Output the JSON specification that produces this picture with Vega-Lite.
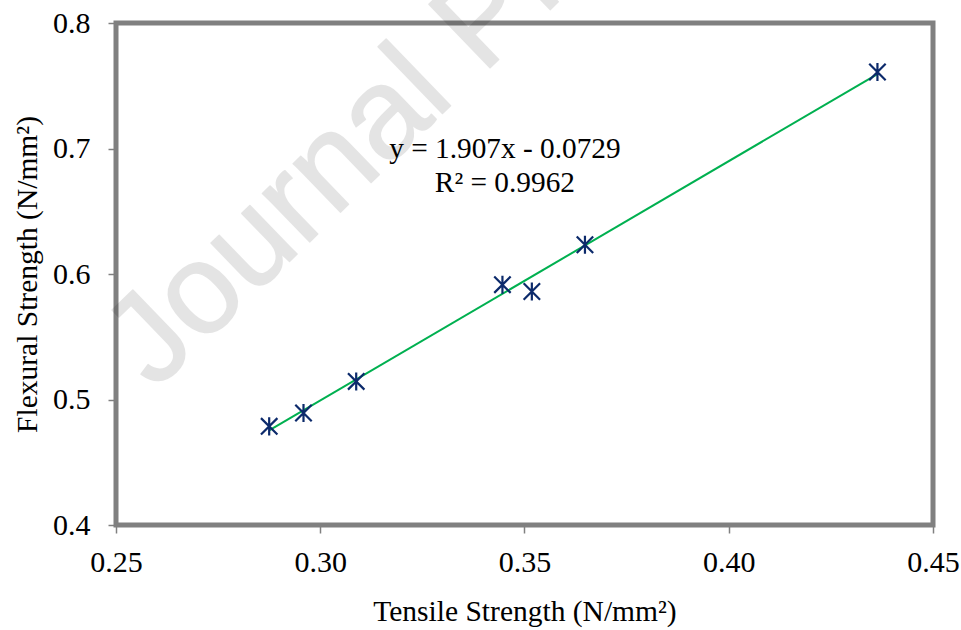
{
  "$schema": "https://vega.github.io/schema/vega-lite/v6.json",
  "autosize": {"type": "none"},
  "width": 817,
  "height": 502,
  "padding": {"left": 116, "top": 23, "right": 28, "bottom": 105},
  "background": "white",
  "config": {
    "view": {"stroke": "#808080", "strokeWidth": 5},
    "axis": {
      "grid": false,
      "domain": false,
      "tickColor": "#808080",
      "tickWidth": 1.5,
      "tickSize": 8,
      "labelFlush": false,
      "labelOverlap": false,
      "labelFont": "Liberation Serif",
      "labelFontSize": 30,
      "labelColor": "#000000",
      "titleFont": "Liberation Serif",
      "titleFontSize": 29.5,
      "titleFontWeight": "normal",
      "titleColor": "#000000"
    }
  },
  "datasets": {
    "points": [
      {"tensile": 0.2875, "flexural": 0.4786},
      {"tensile": 0.2959, "flexural": 0.4892},
      {"tensile": 0.3088, "flexural": 0.5144},
      {"tensile": 0.3446, "flexural": 0.5915},
      {"tensile": 0.3518, "flexural": 0.5861},
      {"tensile": 0.3648, "flexural": 0.6233},
      {"tensile": 0.4364, "flexural": 0.7610}
    ],
    "trend": [
      {"tensile": 0.2875, "flexural": 0.4754},
      {"tensile": 0.4364, "flexural": 0.7593}
    ],
    "equation": [
      {"tensile": 0.3452, "flexural": 0.6927, "label": "y = 1.907x - 0.0729"},
      {"tensile": 0.3452, "flexural": 0.6656, "label": "R² = 0.9962"}
    ],
    "watermark": [
      {"tensile": 0.2595, "flexural": 0.5065, "label": "Journal Pre-proof"}
    ]
  },
  "encoding": {
    "x": {
      "field": "tensile",
      "type": "quantitative",
      "scale": {"domain": [0.25, 0.45], "nice": false, "zero": false},
      "axis": {
        "title": "Tensile Strength (N/mm²)",
        "values": [0.25, 0.3, 0.35, 0.4, 0.45],
        "format": ".2f",
        "labelPadding": 14,
        "titleBaseline": "alphabetic",
        "titleY": 95
      }
    },
    "y": {
      "field": "flexural",
      "type": "quantitative",
      "scale": {"domain": [0.4, 0.8], "nice": false, "zero": false},
      "axis": {
        "title": "Flexural Strength (N/mm²)",
        "values": [0.4, 0.5, 0.6, 0.7, 0.8],
        "format": ".1f",
        "labelPadding": 18,
        "titleBaseline": "alphabetic",
        "titleX": -80,
        "titleY": 251
      }
    }
  },
  "layer": [
    {
      "data": {"name": "trend"},
      "mark": {"type": "line", "color": "#00b050", "strokeWidth": 2}
    },
    {
      "data": {"name": "points"},
      "mark": {
        "type": "point",
        "shape": "M-1,-1L1,1M-1,1L1,-1M0,-1.1L0,1.1",
        "filled": false,
        "stroke": "#0c2a6b",
        "strokeWidth": 2.2,
        "size": 270,
        "opacity": 1
      }
    },
    {
      "data": {"name": "equation"},
      "mark": {
        "type": "text",
        "font": "Liberation Serif",
        "fontSize": 29.3,
        "color": "#000000",
        "align": "center",
        "baseline": "alphabetic"
      },
      "encoding": {"text": {"field": "label"}}
    },
    {
      "data": {"name": "watermark"},
      "mark": {
        "type": "text",
        "font": "Liberation Sans",
        "fontSize": 128,
        "angle": -44,
        "fill": "#000000",
        "stroke": "#000000",
        "strokeWidth": 1.5,
        "strokeJoin": "round",
        "opacity": 0.1,
        "align": "left",
        "baseline": "alphabetic"
      },
      "encoding": {"text": {"field": "label"}}
    }
  ]
}
